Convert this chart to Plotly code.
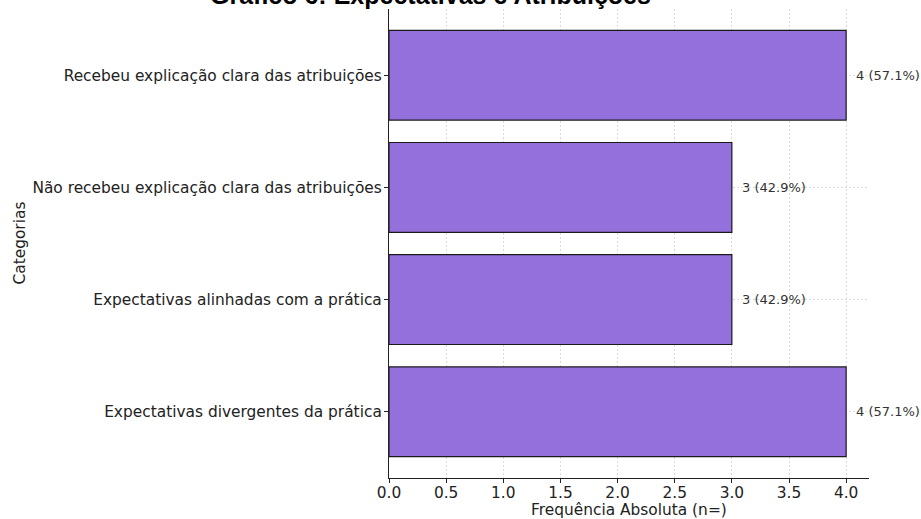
import plotly.graph_objects as go

categories = [
    "Expectativas divergentes da prática",
    "Expectativas alinhadas com a prática",
    "Não recebeu explicação clara das atribuições",
    "Recebeu explicação clara das atribuições",
]
counts = [4, 3, 3, 4]
percents = [57.1, 42.9, 42.9, 57.1]
x_ticks = [0.0, 0.5, 1.0, 1.5, 2.0, 2.5, 3.0, 3.5, 4.0]
title_text = "Gráfico 6: Expectativas e Atribuições"
x_title = "Frequência Absoluta (n=)"
y_title = "Categorias"

W, H = 921, 519
ML, MR, MT, MB = 389, 52, 9, 41
PW = W - ML - MR
PH = H - MT - MB

fig = go.Figure()
fig.add_trace(go.Bar(
    y=categories,
    x=counts,
    orientation="h",
    width=0.8,
    marker=dict(color="#9370DB", line=dict(color="#1a1a1a", width=1.2)),
    hoverinfo="skip",
))

for c, v, p in zip(categories, counts, percents):
    fig.add_annotation(
        x=v, y=c, xref="x", yref="y",
        text=f"{v} ({p:.1f}%)",
        showarrow=False, xanchor="left", yanchor="middle", xshift=8,
        font=dict(family="DejaVu Sans", size=13, color="#333333"),
    )

# title (partly cut off at the top, as in the reference)
fig.add_annotation(
    x=(430 - ML) / PW, y=1 + (MT + 5) / PH,
    xref="paper", yref="paper", text=f"<b>{title_text}</b>", showarrow=False,
    xanchor="center", yanchor="middle",
    font=dict(family="Liberation Sans", size=25, color="black"),
)

# axis titles as annotations for precise placement
fig.add_annotation(
    x=0.5, y=-(510 - (MT + PH)) / PH,
    xref="paper", yref="paper", text=x_title, showarrow=False,
    xanchor="center", yanchor="middle",
    font=dict(family="DejaVu Sans", size=15.4, color="#222222"),
)
fig.add_annotation(
    x=(19 - ML) / PW, y=0.5,
    xref="paper", yref="paper", text=y_title, showarrow=False,
    textangle=-90, xanchor="center", yanchor="middle",
    font=dict(family="DejaVu Sans", size=15.4, color="#222222"),
)

grid_style = dict(showgrid=True, gridcolor="#dadada", griddash="2px,2px", gridwidth=0.8)

fig.update_layout(
    width=W, height=H,
    margin=dict(l=ML, r=MR, t=MT, b=MB, autoexpand=False),
    paper_bgcolor="white", plot_bgcolor="white",
    showlegend=False,
    bargap=0.2,
    xaxis=dict(
        range=[0, 4.2],
        tickvals=x_ticks,
        ticktext=[f"{t:.1f}" for t in x_ticks],
        showline=True, linecolor="#222222", linewidth=1.2,
        ticks="outside", ticklen=4, tickcolor="#222222", tickwidth=1,
        ticklabelstandoff=-4,
        zeroline=False,
        tickfont=dict(family="DejaVu Sans", size=15.4, color="#222222"),
        **grid_style,
    ),
    yaxis=dict(
        range=[-0.59, 3.59],
        categoryorder="array", categoryarray=categories,
        showline=True, linecolor="#222222", linewidth=1.2,
        ticks="outside", ticklen=4, tickcolor="#222222", tickwidth=1,
        ticklabelstandoff=-1,
        zeroline=False,
        tickfont=dict(family="DejaVu Sans", size=15.4, color="#222222"),
        **grid_style,
    ),
)

fig.write_html("out.html")
